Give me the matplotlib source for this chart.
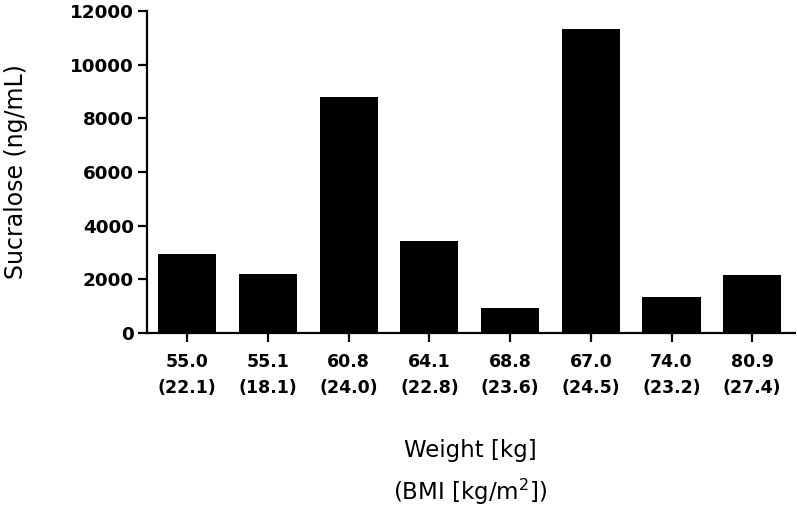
import numpy as np
import matplotlib
matplotlib.use('Agg')
import matplotlib.pyplot as plt

plt.rcParams['font.family'] = ['DejaVu Sans']
plt.rcParams['mathtext.default'] = 'regular'

weights = ['55.0', '55.1', '60.8', '64.1', '68.8', '67.0', '74.0', '80.9']
bmis = ['22.1', '18.1', '24.0', '22.8', '23.6', '24.5', '23.2', '27.4']
sucralose = [2930, 2210, 8785, 3420, 930, 11340, 1340, 2160]

labels = ['%s\n(%s)' % (w, b) for w, b in zip(weights, bmis)]
x = np.arange(len(weights))

fig = plt.figure(figsize=(7.97, 5.16), dpi=100)
ax = fig.add_axes([0.1844, 0.3547, 0.8131, 0.624])

ax.bar(x, sucralose, 0.72, color='black')

ax.set_xlim(-0.5, 7.53)
ax.set_ylim(0, 12000)
ax.set_yticks(np.arange(0, 12001, 2000))
ax.set_xticks(x)
ax.set_xticklabels(labels, fontweight='bold', fontsize=12.5, linespacing=1.55)
for t in ax.get_yticklabels():
    t.set_fontweight('bold')
    t.set_fontsize(13.2)

for s in ['top', 'right']:
    ax.spines[s].set_visible(False)
for s in ['left', 'bottom']:
    ax.spines[s].set_linewidth(1.6)
ax.tick_params(axis='both', width=1.6, length=6.5, color='black')
ax.tick_params(axis='y', pad=3)
ax.tick_params(axis='x', pad=8)

ax.set_ylabel('Sucralose (ng/mL)', fontsize=17, labelpad=30)

fig.text(470 / 797, 1 - 457 / 516, 'Weight [kg]', fontsize=16.5, ha='center', va='baseline')
fig.text(470 / 797, 1 - 500 / 516, '(BMI [kg/m$^2$])', fontsize=16.5, ha='center', va='baseline')

fig.savefig('out.png', dpi=100)
